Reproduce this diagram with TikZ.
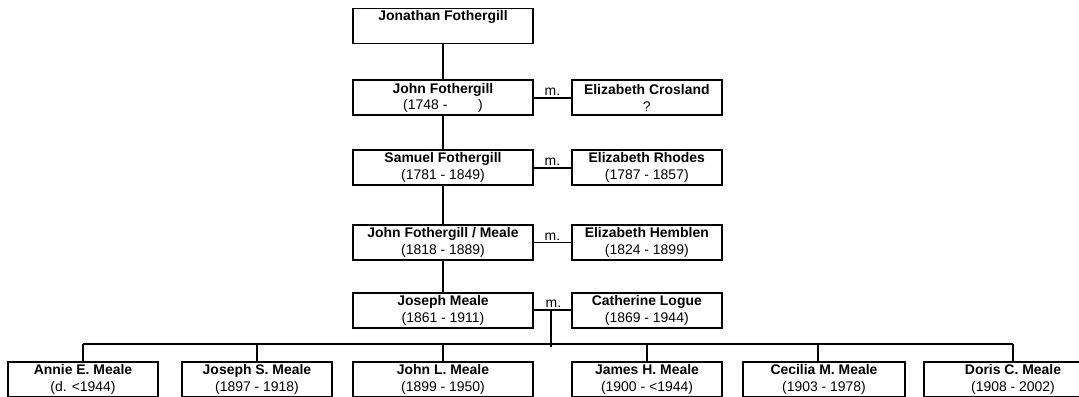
\documentclass[tikz,border=0pt]{standalone}
\usepackage{fontspec}
\setmainfont{Liberation Sans}
\usetikzlibrary{positioning, calc}

\begin{document}
\begin{tikzpicture}[x=1bp, y=-1bp, node distance=36bp and 37bp,
    person/.style={draw, rectangle, line width=1.8bp, minimum width=180bp, minimum height=35bp,
      inner sep=0pt, align=center, font=\fontsize{14}{16.5}\selectfont},
    kid/.style={person, minimum width=150bp},
    link/.style={line width=1.8bp},
    wed/.style={font=\fontsize{14}{15}\selectfont, inner sep=1.5bp, above}]
    \useasboundingbox (0,0) rectangle (1079,396);

    % main line
    \node[person] (jonathan) at (443,26) {\textbf{Jonathan Fothergill}\\ \strut};
    \node[person, below=35bp of jonathan] (john) {\textbf{John Fothergill}\\(1748 -\hspace{2.2em})};
    \node[person, below=33bp of john] (samuel) {\textbf{Samuel Fothergill}\\(1781 - 1849)};
    \node[person, below=38bp of samuel] (johnm) {\textbf{John Fothergill / Meale}\\(1818 - 1889)};
    \node[person, below=31bp of johnm] (joseph) {\textbf{Joseph Meale}\\(1861 - 1911)};

    % spouses
    \node[kid, right=of john] (elizc) {\textbf{Elizabeth Crosland}\\?};
    \node[kid, right=of samuel] (elizr) {\textbf{Elizabeth Rhodes}\\(1787 - 1857)};
    \node[kid, right=of johnm] (elizh) {\textbf{Elizabeth Hemblen}\\(1824 - 1899)};
    \node[kid, right=of joseph] (cath) {\textbf{Catherine Logue}\\(1869 - 1944)};

    \draw[link] (jonathan) -- (john);
    \draw[link] (john) -- (samuel);
    \draw[link] (samuel) -- (johnm);
    \draw[link] (johnm) -- (joseph);

    \draw[link] (john) -- node[wed] {m.} (elizc);
    \draw[link] (samuel) -- node[wed] {m.} (elizr);
    \draw[link] (johnm) -- node[wed] {m.} (elizh);
    \draw[link] (joseph) -- node[wed, xshift=1bp] (wed) {m.} (cath);

    % children
    \node[kid] (annie) at (83,379.5) {\textbf{Annie E. Meale}\\(d. <1944)};
    \node[kid] (josephs) at (257,379.5) {\textbf{Joseph S. Meale}\\(1897 - 1918)};
    \node[person] (johnl) at (443,379.5) {\textbf{John L. Meale}\\(1899 - 1950)};
    \node[kid] (james) at (647,379.5) {\textbf{James H. Meale}\\(1900 - <1944)};
    \node[kid, minimum width=162bp] (cecilia) at (824,379.5) {\textbf{Cecilia M. Meale}\\(1903 - 1978)};
    \node[kid, minimum width=178bp] (doris) at (1013,379.5) {\textbf{Doris C. Meale}\\(1908 - 2002)};

    \coordinate (knot) at ($(joseph.east)!0.46!(cath.west)$);
    \coordinate (busl) at (83,344);
    \coordinate (busr) at (1013,344);
    \draw[link] (knot) -- ++(0,37);
    \draw[link] (busl) -- (busr);
    \draw[link] (annie.north) -- (annie.north |- busl);
    \draw[link] (josephs.north) -- (josephs.north |- busl);
    \draw[link] (johnl.north) -- (johnl.north |- busl);
    \draw[link] (james.north) -- (james.north |- busl);
    \draw[link] ([xshift=-6bp]cecilia.north) -- ([xshift=-6bp]cecilia.north |- busl);
    \draw[link] (doris.north) -- (doris.north |- busl);
\end{tikzpicture}
\end{document}
